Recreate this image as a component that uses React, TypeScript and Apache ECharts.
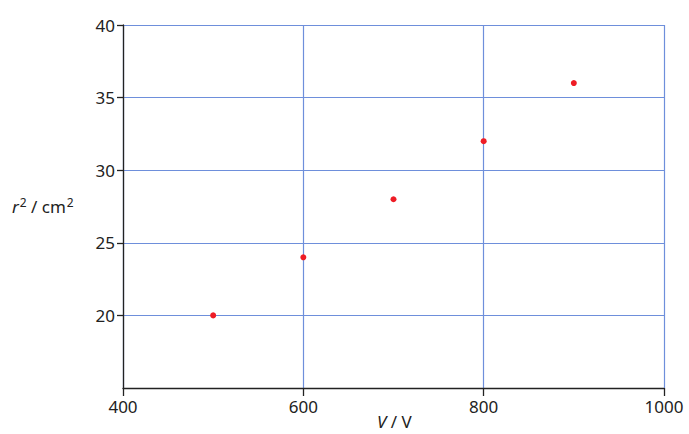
import React, { useEffect, useRef } from "react";
import * as echarts from "echarts";

const voltages = [500, 600, 700, 800, 900];
const rSquared = [20, 24, 28, 32, 36];
const xTicks = [400, 600, 800, 1000];
const yTicks = [20, 25, 30, 35, 40];

const FONT = "'Noto Sans', 'Open Sans', sans-serif";
const BLUE = "#6e8fdb";
const FS = 17;

export default function App() {
  const ref = useRef<HTMLDivElement>(null);
  useEffect(() => {
    if (!ref.current) return;
    const chart = echarts.init(ref.current, null, { renderer: "svg" });
    chart.setOption({
      animation: false,
      grid: { left: 123, right: 25, top: 25, bottom: 46, containLabel: false },
      xAxis: {
        type: "value",
        min: xTicks[0],
        max: xTicks[xTicks.length - 1],
        interval: 200,
        axisLine: { show: true, lineStyle: { color: "#222", width: 1.3 } },
        axisTick: { show: true, inside: false, length: 8, lineStyle: { color: "#222", width: 1.3 } },
        axisLabel: { color: "#222", fontSize: FS, fontFamily: FONT, margin: 10, formatter: (v: number) => String(v) },
        splitLine: { show: true, lineStyle: { color: BLUE, width: 1.2 } },
      },
      yAxis: {
        type: "value",
        min: 15,
        max: yTicks[yTicks.length - 1],
        interval: 5,
        axisLine: { show: true, lineStyle: { color: "#222", width: 1.3 } },
        axisTick: { show: true, inside: false, length: 6, customValues: yTicks, lineStyle: { color: "#222", width: 1.3 } },
        axisLabel: {
          color: "#222",
          fontSize: FS,
          fontFamily: FONT,
          margin: 8,
          formatter: (v: number) => (yTicks.includes(v) ? String(v) : ""),
        },
        splitLine: { show: true, lineStyle: { color: BLUE, width: 1.2 } },
      },
      graphic: [
        {
          type: "text",
          left: 12,
          top: 196,
          style: {
            text: "{i|r}{s|2}{n| / cm}{s|2}",
            rich: {
              i: { fontStyle: "italic", fontSize: FS, fontFamily: FONT, fill: "#222", verticalAlign: "bottom", lineHeight: 19 },
              n: { fontSize: FS, fontFamily: FONT, fill: "#222", verticalAlign: "bottom", lineHeight: 19 },
              s: { fontSize: 12, fontFamily: FONT, fill: "#222", verticalAlign: "top", lineHeight: 19, padding: [0, 0, 0, 1] },
            },
          },
        },
        {
          type: "text",
          left: 377,
          top: 413,
          style: {
            text: "{i|V}{n| / V}",
            rich: {
              i: { fontStyle: "italic", fontSize: FS, fontFamily: FONT, fill: "#222" },
              n: { fontSize: FS, fontFamily: FONT, fill: "#222" },
            },
          },
        },
      ],
      series: [
        {
          type: "scatter",
          data: voltages.map((v, i) => [v, rSquared[i]]),
          symbol: "circle",
          symbolSize: 6,
          itemStyle: { color: "#ee1c25", opacity: 1 },
        },
      ],
    });
    return () => chart.dispose();
  }, []);
  return <div ref={ref} style={{ width: 689, height: 434, position: "absolute", left: 0, top: 0 }} />;
}
